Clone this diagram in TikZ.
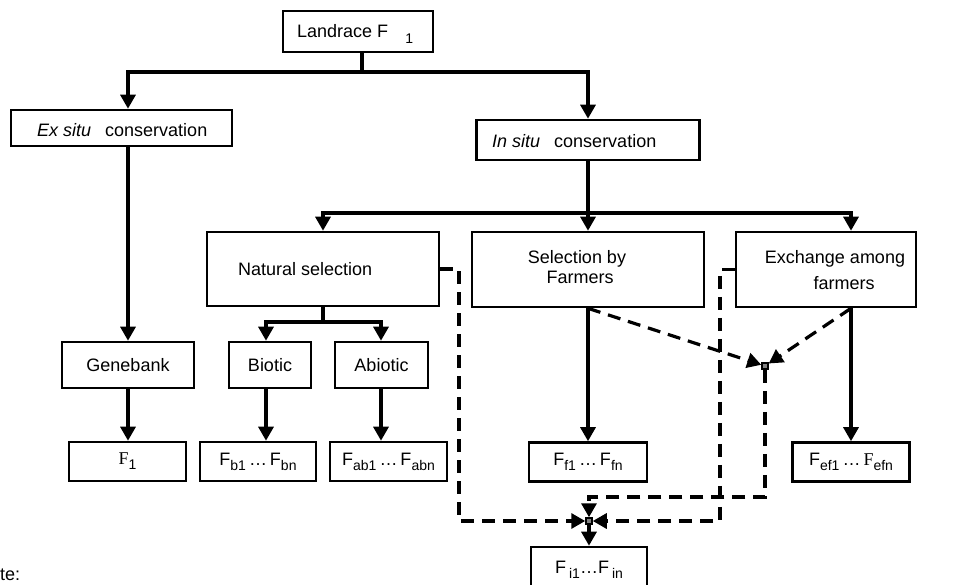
\documentclass[tikz,border=0pt]{standalone}
\usepackage{fontspec}
\setmainfont{Liberation Sans}
\newfontfamily\serifF{Liberation Serif}
\usetikzlibrary{arrows.meta}
\newcommand{\sbx}[1]{\raisebox{-5pt}{\fontsize{14}{14}\selectfont #1}}
\begin{document}
\begin{tikzpicture}[x=1pt,y=-1pt,
  box/.style={draw, line width=2.6pt, rectangle, inner sep=0pt, font=\fontsize{18}{21}\selectfont},
  lbl/.style={font=\fontsize{18}{21}\selectfont, inner sep=0pt},
  conn/.style={line width=3.2pt},
  arr/.style={conn, -{Triangle[width=15pt,length=14pt]}},
  dsh/.style={line width=3.2pt, dash pattern=on 13pt off 8pt},
  darr/.style={dsh, -{Triangle[width=15pt,length=14pt]}},
  jn/.style={draw, line width=1.5pt, fill=gray, minimum size=6pt, inner sep=0pt}
]
\useasboundingbox (0,0) rectangle (958,584);

% boxes
\node[box, minimum width=150, minimum height=41] (L) at (358,31.5) {};
\node[box, minimum width=221, minimum height=36] (ES) at (121.5,128) {};
\node[box, minimum width=223, minimum height=40] (IS) at (588,140) {};
\node[box, minimum width=232, minimum height=74] (NS) at (323,269) {};
\node[box, minimum width=232, minimum height=75] (SF) at (588,269.5) {};
\node[box, minimum width=180, minimum height=75] (EX) at (826,269.5) {};
\node[box, minimum width=132, minimum height=46] (GB) at (128,365) {Genebank};
\node[box, minimum width=82, minimum height=46] (Bi) at (270,365) {Biotic};
\node[box, minimum width=93, minimum height=46] (Ab) at (381.5,365) {Abiotic};
\node[box, minimum width=117, minimum height=39] (F1) at (127.5,461.5) {{\serifF F}\sbx{1}};
\node[box, minimum width=116, minimum height=39] (Fb) at (258,461.5) {F\sbx{b1}\,…\,F\sbx{bn}};
\node[box, minimum width=117, minimum height=39] (Fab) at (388.5,461.5) {F\sbx{ab1}\,…\,F\sbx{abn}};
\node[box, minimum width=118, minimum height=39] (Ff) at (588,462) {F\sbx{f1}\,…\,F\sbx{fn}};
\node[box, minimum width=117, minimum height=39] (Fef) at (851,462) {F\sbx{ef1}\,…\,{\serifF F}\sbx{efn}};
\node[box, minimum width=116, minimum height=48] (Fi) at (589,571) {};

% texts
\node[lbl, anchor=base west] (Lt) at (297,37) {Landrace F\hspace{17pt}\raisebox{-6pt}{\fontsize{14}{14}\selectfont 1}};
\node[lbl, anchor=base west] (ESt) at (37,136) {\textit{Ex situ}\hspace{14pt}conservation};
\node[lbl, anchor=base west] (ISt) at (492,147) {\textit{In situ}\hspace{14pt}conservation};
\node[lbl, anchor=base west] (NSt) at (238,275) {Natural selection};
\node[lbl, anchor=base] (SFt1) at (577,263) {Selection by};
\node[lbl, anchor=base] (SFt2) at (580,283) {Farmers};
\node[lbl, anchor=base] (EXt1) at (835,263) {Exchange among};
\node[lbl, anchor=base] (EXt2) at (844,289) {farmers};
\node[lbl, anchor=base] (Fit) at (589,573) {F\,\sbx{i1}…F\,\sbx{in}};
\node[lbl, anchor=base west] (note) at (0,580) {te:};

% junctions
\node[jn] (J1) at (765,366) {};
\node[jn] (J2) at (589,521) {};

% solid connectors
\coordinate (t1) at (362,72);
\draw[conn] (L.south -| t1) -- (t1);
\draw[arr] (t1) -| (ES.north -| GB.north);
\draw[arr] (t1) -| (IS.north);
\draw[arr] (ES.south -| GB.north) -- (GB.north);

\coordinate (t2) at (588,213);
\draw[conn] (IS.south) -- (t2);
\draw[arr] (t2) -| (NS.north);
\draw[arr] (t2) -- (SF.north);
\draw[arr] (t2) -| (EX.north -| Fef.north);

\coordinate (b1) at (266,322);
\coordinate (b2) at (381,322);
\draw[arr] (NS.south) |- (b1) -- (b1 |- Bi.north);
\draw[arr] (NS.south |- b1) -- (b2) -- (b2 |- Ab.north);

\draw[arr] (GB.south) -- (GB.south |- F1.north);
\draw[arr] (b1 |- Bi.south) -- (b1 |- Fb.north);
\draw[arr] (b2 |- Ab.south) -- (b2 |- Fab.north);
\draw[arr] (SF.south) -- (SF.south |- Ff.north);
\draw[arr] (EX.south -| Fef.north) -- (Fef.north);
\draw[arr] (J2) -- (Fi.north);

% dashed connectors
\coordinate (ca) at (459,521);
\coordinate (cb) at (720,521);
\coordinate (cd) at (589,497);
\draw[darr] (SF.south) -- (J1);
\draw[darr] (EX.south -| Fef.north) -- (J1);
\draw[darr] (NS.east) -| (ca) -- (J2);
\draw[darr] (EX.west) -| (cb) -- (J2);
\draw[darr] (J1) |- (cd) -- (J2);
\end{tikzpicture}
\end{document}
